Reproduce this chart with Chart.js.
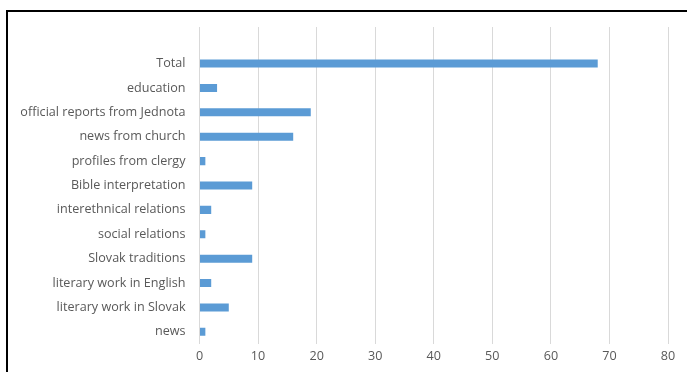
<!DOCTYPE html>
<html>
<head>
<meta charset="utf-8">
<script src="https://cdn.jsdelivr.net/npm/chart.js@4"></script>
<style>
  html, body { margin: 0; padding: 0; background: #fff; }
  #wrap { position: relative; width: 687px; height: 372px; overflow: hidden; }
  #frame {
    position: absolute; left: 6px; top: 10px; width: 800px; height: 500px;
    border-left: 2.5px solid #000; border-top: 2.5px solid #000;
  }
  canvas { position: absolute; left: 0; top: 0; }
</style>
</head>
<body>
<div id="wrap">
  <div id="frame"></div>
  <canvas id="bars" width="687" height="372"></canvas>
</div>
<script>
// empty first row keeps a blank band under the top of the grid
const categories = ['', 'Total', 'education', 'official reports from Jednota', 'news from church',
  'profiles from clergy', 'Bible interpretation', 'interethnical relations', 'social relations',
  'Slovak traditions', 'literary work in English', 'literary work in Slovak', 'news'];
const counts = [null, 68, 3, 19, 16, 1, 9, 2, 1, 9, 2, 5, 1];
const xTicks = [0, 10, 20, 30, 40, 50, 60, 70, 80];

const ctx = document.getElementById('bars').getContext('2d');
const labelFont = { family: 'Open Sans', size: 12.6 };

new Chart(ctx, {
  type: 'bar',
  data: {
    labels: categories,
    datasets: [{
      data: counts,
      backgroundColor: '#5B9BD5',
      borderWidth: 0,
      barPercentage: 0.33,
      categoryPercentage: 1
    }]
  },
  options: {
    indexAxis: 'y',
    responsive: false,
    animation: false,
    layout: { padding: { top: 27, right: 19, bottom: 0, left: 0 } },
    plugins: { legend: { display: false }, tooltip: { enabled: false } },
    scales: {
      x: {
        min: 0,
        max: 80,
        afterBuildTicks: (scale) => { scale.ticks = xTicks.map(v => ({ value: v })); },
        afterFit: (scale) => { scale.height = 28; },
        grid: { color: '#d9d9d9', drawTicks: false },
        border: { display: false },
        ticks: { color: '#595959', font: labelFont, padding: 5 }
      },
      y: {
        afterFit: (scale) => { scale.width = 199.5; },
        grid: { display: false },
        border: { display: false },
        ticks: { color: '#595959', font: labelFont, padding: 6, autoSkip: false }
      }
    }
  }
});
</script>
</body>
</html>
